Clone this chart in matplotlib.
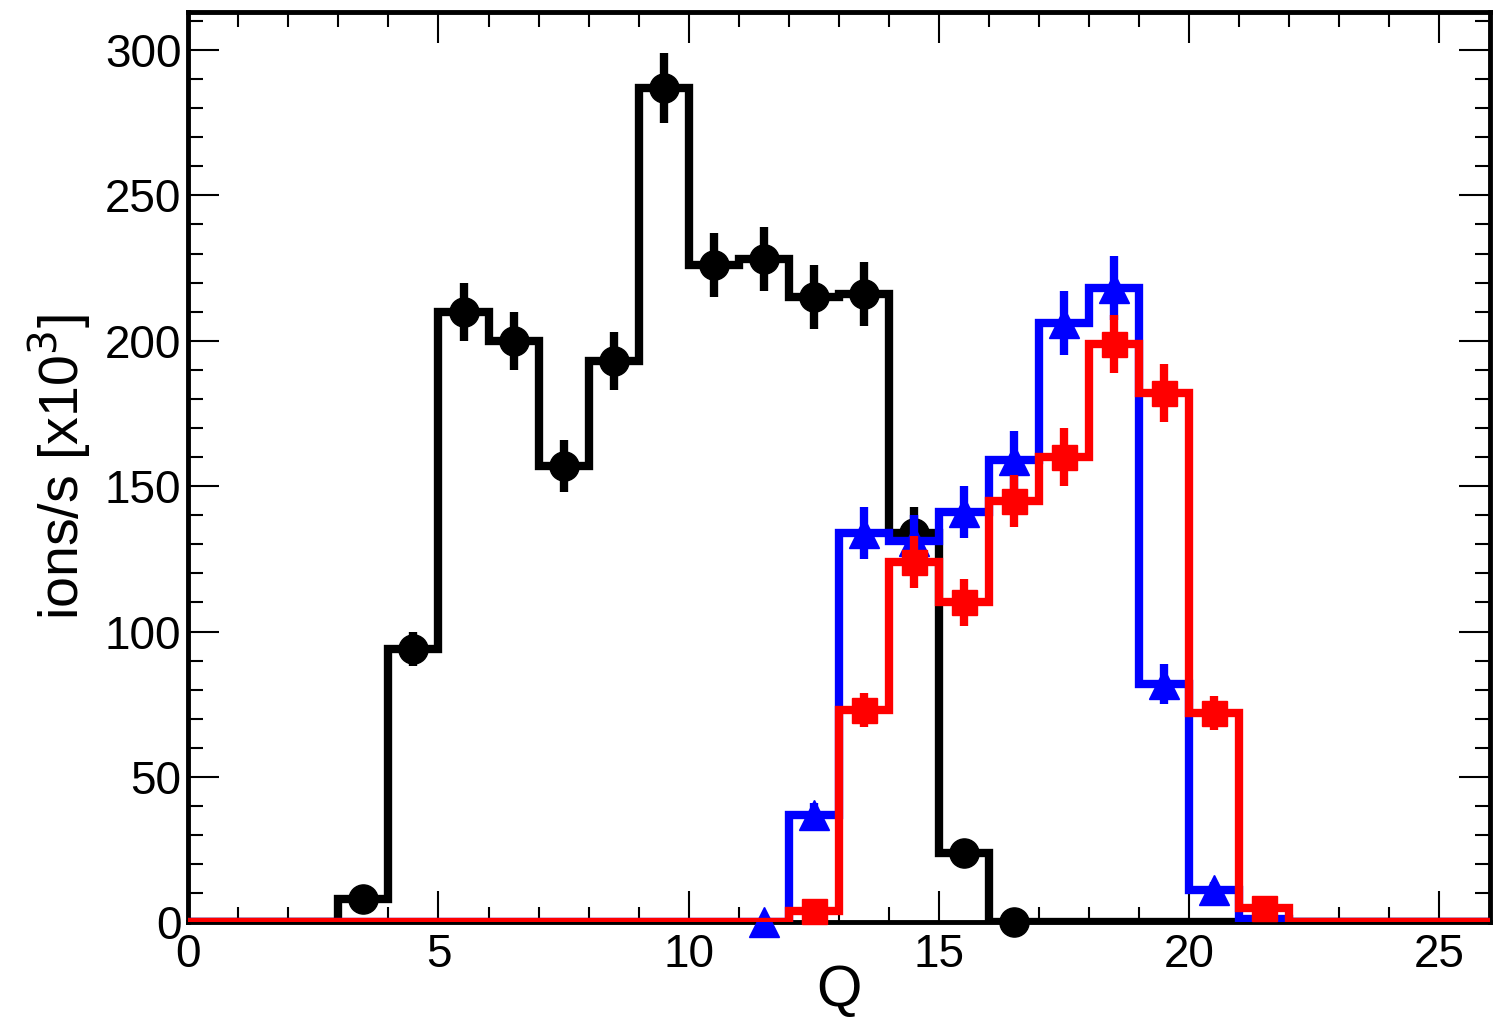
import numpy as np
import matplotlib.pyplot as plt
from matplotlib.ticker import MultipleLocator

plt.rcParams['font.family'] = ['Liberation Sans', 'DejaVu Sans']

# bin edges 0..26 (charge state Q)
edges = np.arange(0, 27)

black_vals = [0, 0, 0, 8, 94, 210, 200, 157, 193, 287, 226, 228, 215, 216, 134, 24,
              0, 0, 0, 0, 0, 0, 0, 0, 0, 0]
black_errs = [0, 0, 0, 2, 6, 10, 10, 9, 10, 12, 11, 11, 11, 11, 9, 4,
              0, 0, 0, 0, 0, 0, 0, 0, 0, 0]
black_marked = list(range(3, 17))

blue_vals = [0, 0, 0, 0, 0, 0, 0, 0, 0, 0, 0, 0, 37, 134, 131, 141, 159, 206, 218,
             82, 11, 1, 0, 0, 0, 0]
blue_errs = [0, 0, 0, 0, 0, 0, 0, 0, 0, 0, 0, 0, 4, 9, 9, 9, 10, 11, 11,
             7, 3, 1, 0, 0, 0, 0]
blue_marked = list(range(11, 21))

red_vals = [0, 0, 0, 0, 0, 0, 0, 0, 0, 0, 0, 0, 4, 73, 124, 110, 145, 160, 199,
            182, 72, 5, 0, 0, 0, 0]
red_errs = [0, 0, 0, 0, 0, 0, 0, 0, 0, 0, 0, 0, 2, 6, 9, 8, 9, 10, 10,
            10, 6, 2, 0, 0, 0, 0]
red_marked = list(range(12, 22))

series = [
    (black_vals, black_errs, black_marked, 'black', 'o', 21),
    (blue_vals, blue_errs, blue_marked, '#0000ff', '^', 22),
    (red_vals, red_errs, red_marked, '#ff0000', 's', 18),
]

fig = plt.figure(figsize=(14.94, 10.18), dpi=100)
ax = fig.add_axes([0.126, 0.094, 0.871, 0.894])

centers = (edges[:-1] + edges[1:]) / 2
for i, (vals, errs, marked, col, mk, ms) in enumerate(series):
    z = 2 + i
    ax.stairs(vals, edges, color=col, lw=6, zorder=z)
    idx = np.array(marked)
    ax.errorbar(centers[idx], np.array(vals)[idx], yerr=np.array(errs)[idx],
                fmt=mk, color=col, ms=ms, elinewidth=6, capsize=0,
                zorder=z, clip_on=False)

ax.set_xlim(0, 26)
ax.set_ylim(0, 313)
ax.xaxis.set_major_locator(MultipleLocator(5))
ax.xaxis.set_minor_locator(MultipleLocator(1))
ax.yaxis.set_major_locator(MultipleLocator(50))
ax.yaxis.set_minor_locator(MultipleLocator(10))
ax.tick_params(which='both', direction='in', top=True, right=True, width=1.5)
ax.tick_params(which='major', length=22)
ax.tick_params(which='minor', length=11)
ax.tick_params(axis='x', labelsize=33, pad=8)
ax.tick_params(axis='y', labelsize=33, pad=5)
for s in ax.spines.values():
    s.set_linewidth(3.5)

ax.set_xlabel('Q', fontsize=42, labelpad=-10)
ax.set_ylabel(r'ions/s [x10$^{3}$]', fontsize=40, labelpad=8)

fig.savefig('out.png', dpi=100)
